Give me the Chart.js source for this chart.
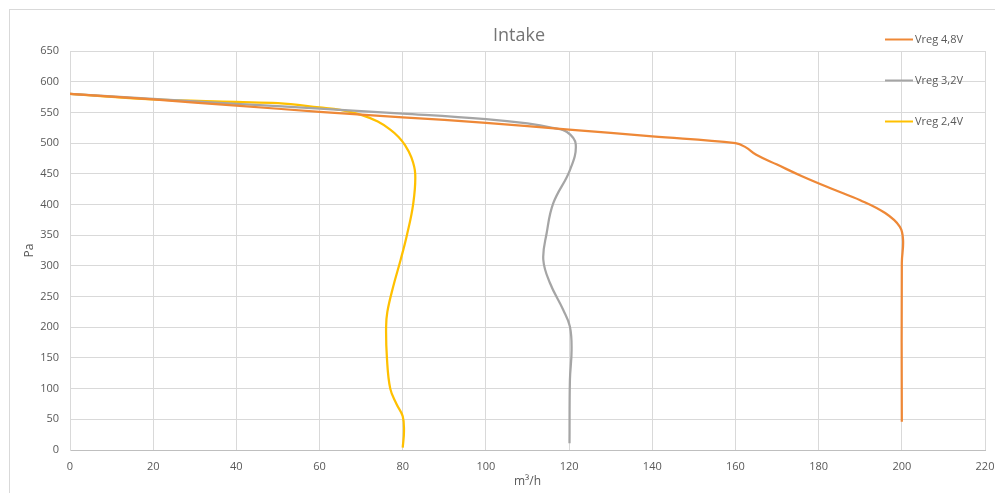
<!DOCTYPE html>
<html>
<head>
<meta charset="utf-8">
<script src="https://cdn.jsdelivr.net/npm/chart.js@4/dist/chart.umd.min.js"></script>
<style>
  body { margin: 0; background: #fff; }
  #wrap { width: 995px; height: 493px; position: relative; }
</style>
</head>
<body>
<div id="wrap"><canvas id="chartCanvas"></canvas></div>
<script>
// data (m3/h vs Pa)
const labels = ["Vreg 4,8V", "Vreg 3,2V", "Vreg 2,4V"];
const colors = ["#EE8837", "#A5A5A5", "#FFC000"];

const orangeX = [0, 20, 40, 60, 80, 100, 120, 140, 160, 162.5, 165, 170, 176, 183, 190, 196, 199.5, 200.3, 200, 200];
const orangeY = [580, 571, 561, 551, 542, 533, 522, 511, 500, 493, 481, 465, 446, 426, 407, 386, 364, 342, 305, 46];

const grayX = [0, 20, 40, 60, 80, 100, 110, 116, 119.5, 121.6, 120.2, 116.2, 114.6, 113.8, 115.4, 118.6, 120.2, 120.6, 120.2, 120.1];
const grayY = [580, 572, 564, 556, 548, 539, 532, 525, 518, 498, 456, 402, 353, 310, 272, 228, 201, 163, 114, 11];

const yellowX = [0, 20, 40, 50, 60, 65, 70, 74, 77, 79, 80.5, 82, 83, 82.5, 81, 79.5, 77.7, 76.3, 76, 76.2, 77, 78.5, 80, 80.3, 80];
const yellowY = [580, 571, 567, 565, 558, 554, 546, 535, 522, 510, 497, 478, 450, 400, 350, 310, 266, 225, 200, 150, 100, 75, 55, 30, 4];

const xTicks = [0, 220, 20];
const yTicks = [0, 650, 50];

function toPoints(xs, ys) {
  return xs.map((x, i) => ({ x: x, y: ys[i] }));
}

const seriesX = [orangeX, grayX, yellowX];
const seriesY = [orangeY, grayY, yellowY];

const textColor = "#595959";
const gridColor = "#d9d9d9";

Chart.defaults.font.family = "'Open Sans', sans-serif";
Chart.defaults.font.size = 11;
Chart.defaults.color = textColor;

// border, title and legend drawn on top of the canvas
const decor = {
  id: "decor",
  beforeDraw(chart) {
    const ctx = chart.ctx;
    ctx.save();
    ctx.strokeStyle = "#d9d9d9";
    ctx.lineWidth = 1;
    ctx.strokeRect(9.5, 9.5, 1200, 1200);
    ctx.restore();
  },
  afterDraw(chart) {
    const ctx = chart.ctx;
    ctx.save();
    ctx.fillStyle = "#757575";
    ctx.font = "18px 'Open Sans', sans-serif";
    ctx.textAlign = "center";
    ctx.textBaseline = "middle";
    ctx.fillText("Intake", 519, 36);

    ctx.font = "11px 'Open Sans', sans-serif";
    ctx.textAlign = "left";
    chart.data.datasets.forEach((ds, i) => {
      const y = 39 + i * 41;
      ctx.strokeStyle = ds.borderColor;
      ctx.lineWidth = 2;
      ctx.beginPath();
      ctx.moveTo(885, y + 0.5);
      ctx.lineTo(913, y + 0.5);
      ctx.stroke();
      ctx.fillStyle = textColor;
      ctx.fillText(ds.label, 915, y + 1);
    });
    ctx.restore();
  }
};

const datasets = labels.map((lab, i) => ({
  label: lab,
  data: toPoints(seriesX[i], seriesY[i]),
  borderColor: colors[i],
  backgroundColor: colors[i],
  borderWidth: 2.25,
  showLine: true,
  pointRadius: 0,
  tension: 0.4
}));

new Chart(document.getElementById("chartCanvas"), {
  type: "scatter",
  data: { datasets: datasets },
  plugins: [decor],
  options: {
    responsive: true,
    maintainAspectRatio: false,
    animation: false,
    layout: { padding: { top: 51, right: 10, left: 0, bottom: 0 } },
    plugins: {
      legend: { display: false },
      title: { display: false },
      tooltip: { enabled: false }
    },
    scales: {
      x: {
        type: "linear",
        min: xTicks[0],
        max: xTicks[1],
        ticks: { stepSize: xTicks[2], padding: 10, color: textColor },
        grid: { color: gridColor, drawTicks: false },
        border: { color: "#bfbfbf" },
        title: { display: true, text: "m³/h", color: textColor, font: { size: 12 }, padding: { top: 1 } },
        afterFit(scale) {
          scale.height = 43;
          scale.paddingRight = 0;
          scale.paddingLeft = 0;
        }
      },
      y: {
        type: "linear",
        min: yTicks[0],
        max: yTicks[1],
        ticks: { stepSize: yTicks[2], padding: 11, color: textColor },
        grid: { color: gridColor, drawTicks: false },
        border: { color: gridColor },
        title: { display: true, text: "Pa", color: textColor, font: { size: 12 }, padding: { top: 22 } },
        afterFit(scale) {
          scale.width = 70;
          scale.paddingTop = 0;
          scale.paddingBottom = 0;
        }
      }
    }
  }
});
</script>
</body>
</html>
